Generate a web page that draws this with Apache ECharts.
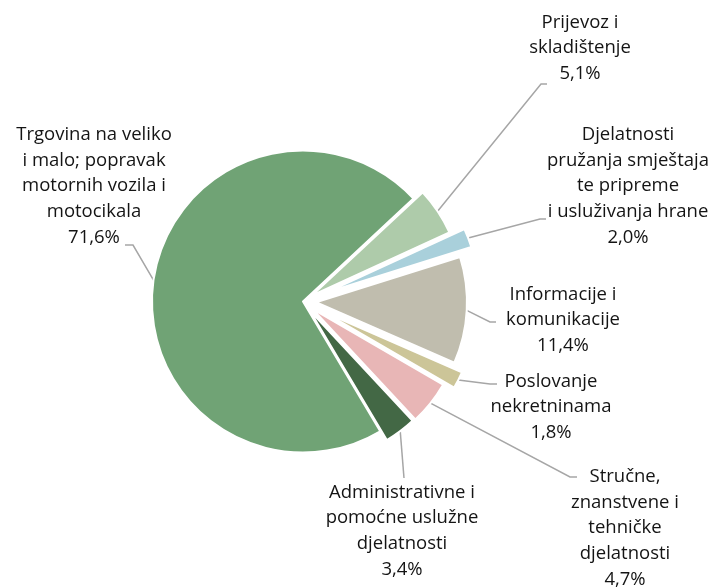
<!DOCTYPE html>
<html>
<head>
<meta charset="utf-8">
<script src="https://cdn.jsdelivr.net/npm/echarts@6/dist/echarts.min.js"></script>
<style>
  html, body { margin: 0; padding: 0; background: #fff; }
  #container { width: 715px; height: 588px; }
</style>
</head>
<body>
<div id="container"></div>
<script>
// slices in clockwise order, starting at the top-right
var categories = [
    'Prijevoz i\nskladištenje',
    'Djelatnosti\npružanja smještaja\nte pripreme\ni usluživanja hrane',
    'Informacije i\nkomunikacije',
    'Poslovanje\nnekretninama',
    'Stručne,\nznanstvene i\ntehničke\ndjelatnosti',
    'Administrativne i\npomoćne uslužne\ndjelatnosti',
    'Trgovina na veliko\ni malo; popravak\nmotornih vozila i\nmotocikala'
];
var shares = [5.1, 2.0, 11.4, 1.8, 4.7, 3.4, 71.6];

// how far each slice is pulled out of the pie (px)
var explode = [11, 26, 13, 23, 12, 11, 0];
var colors = ['#aecbaa', '#a9d0db', '#c0bdae', '#ccc598', '#e8b6b6', '#436845', '#70a375'];

var center = [303, 301.5];
var radius = 151;

// label block centres and leader line elbows / ends
var labelPos = [[580, 48], [628, 186], [563, 320], [551, 407], [625, 528], [402, 531], [94, 186]];
var leaderElbow = [[541, 84], [540, 219], [490, 322], [490, 384], [570, 477], [404, 478], [133, 245]];
var leaderEnd = [[547, 84], [546, 219], [496, 322], [497, 384], [577, 477], [404, 478], [125, 245]];

var myChart = echarts.init(document.getElementById('container'));

// one pie per slice, so that every slice can have its own explosion
var sliceSeries = categories.map(function (name, k) {
    return {
        type: 'pie',
        center: center,
        radius: radius,
        startAngle: 43,
        clockwise: true,
        silent: true,
        selectedMode: 'multiple',
        selectedOffset: explode[k],
        label: { show: false },
        labelLine: { show: false },
        emphasis: { disabled: true },
        data: categories.map(function (n, i) {
            return {
                name: n,
                value: shares[i],
                selected: i === k && explode[k] > 0,
                itemStyle: i === k
                    ? { color: colors[i], borderColor: '#fff', borderWidth: 2 }
                    : { color: 'transparent', borderColor: 'transparent', borderWidth: 0 }
            };
        })
    };
});

// invisible pie that carries the labels
var labelSeries = {
    type: 'pie',
    center: center,
    radius: radius,
    startAngle: 43,
    clockwise: true,
    silent: true,
    avoidLabelOverlap: false,
    itemStyle: { color: 'transparent', borderWidth: 0 },
    label: {
        show: true,
        position: 'outside',
        fontFamily: 'Open Sans',
        fontSize: 18.5,
        lineHeight: 25.7,
        color: '#141414',
        align: 'center',
        formatter: function (p) {
            return p.name + '\n' + p.value.toFixed(1).replace('.', ',') + '%';
        }
    },
    labelLine: {
        show: true,
        length: 10,
        length2: 8,
        lineStyle: { color: '#a6a6a6', width: 1.5 }
    },
    labelLayout: function (params) {
        var i = params.dataIndex;
        var p0 = params.labelLinePoints[0];
        var dx = p0[0] - center[0];
        var dy = p0[1] - center[1];
        var len = Math.sqrt(dx * dx + dy * dy);
        var anchor = [p0[0] + dx / len * explode[i], p0[1] + dy / len * explode[i]];
        return {
            x: labelPos[i][0],
            y: labelPos[i][1],
            align: 'center',
            verticalAlign: 'middle',
            labelLinePoints: [anchor, leaderElbow[i], leaderEnd[i]]
        };
    },
    emphasis: { disabled: true },
    data: categories.map(function (n, i) {
        return { name: n, value: shares[i] };
    })
};

myChart.setOption({
    animation: false,
    series: sliceSeries.concat([labelSeries])
});
</script>
</body>
</html>
